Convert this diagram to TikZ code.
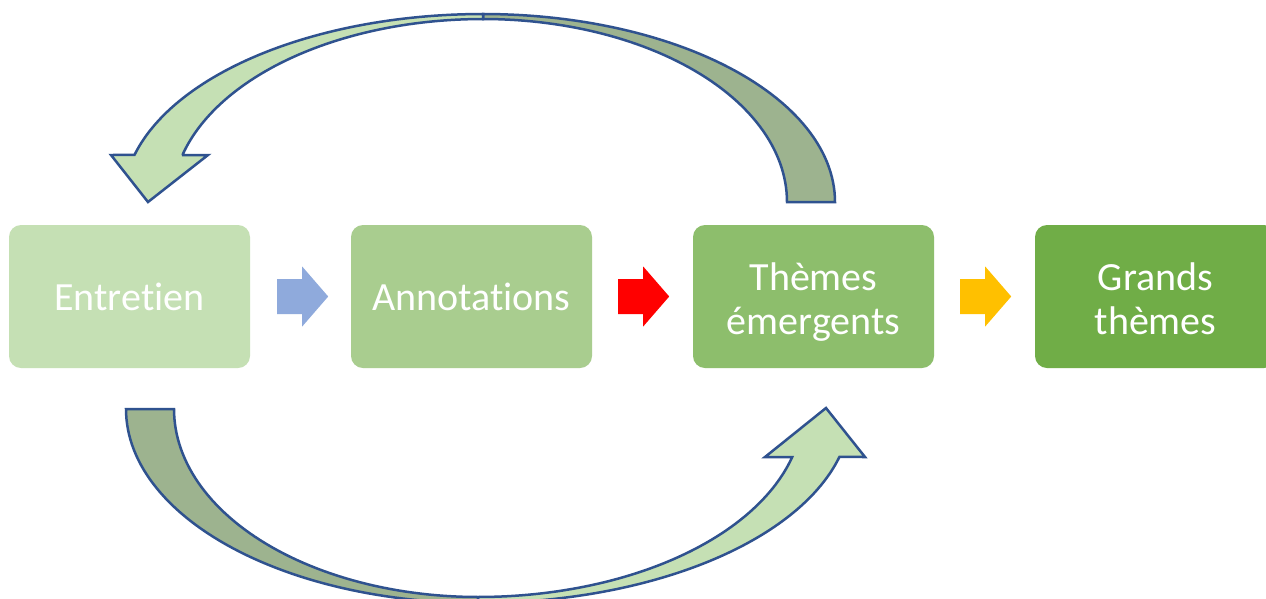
\documentclass[tikz,border=0pt]{standalone}
\usepackage{fontspec}
\setmainfont{Carlito}[Ligatures=NoCommon]
\usetikzlibrary{calc}
\definecolor{g1}{HTML}{C5E0B4}
\definecolor{g2}{HTML}{A9CD8F}
\definecolor{g3}{HTML}{8DBE6C}
\definecolor{g4}{HTML}{70AD47}
\definecolor{darkband}{HTML}{9DB38F}
\definecolor{edge}{HTML}{2F528F}
\definecolor{arrblue}{HTML}{8FAADC}
\definecolor{arrred}{HTML}{FF0000}
\definecolor{arrorange}{HTML}{FFC000}
\newcommand{\twolines}[2]{\raisebox{-7pt}[\height][\depth]{\begin{tabular}{@{}c@{}}#1\\#2\end{tabular}}}
\begin{document}
\begin{tikzpicture}[x=1pt,y=-1pt,
  stage/.style={rounded corners=12pt, minimum width=241pt, minimum height=143pt,
    inner sep=0pt, text=white, align=center, font=\fontsize{40}{44}\selectfont},
  band/.style={draw=edge, line width=2.5pt, line join=miter},
  flowarrow/.pic={\fill[#1] (0,-17.5) -- (25,-17.5) -- (25,-30) -- (51,0) -- (25,30) -- (25,17.5) -- (0,17.5) -- cycle;}]
\clip (0,0) rectangle (1266,598);
\fill[white] (0,0) rectangle (1266,598);
% stages
\node[stage, fill=g1] (e) at (129.5,296.5) {Entretien};
\node[stage, fill=g2] (a) at (471.5,296.5) {Annotations};
\node[stage, fill=g3] (t) at (813.5,296.5) {\twolines{Thèmes}{émergents}};
\node[stage, fill=g4] (g) at (1155.5,296.5) {\twolines{Grands}{thèmes}};
% block arrows between stages
\pic at ($(e.east)+(27,0)$) {flowarrow=arrblue};
\pic at ($(a.east)+(26,0)$) {flowarrow=arrred};
\pic at ($(t.east)+(26,0)$) {flowarrow=arrorange};
% top curved arrow (Thèmes -> Entretien)
\draw[band, fill=darkband]
  plot[domain=90:0, samples=60] ({483+352*cos(\x)},{202-188*sin(\x)})
  -- plot[domain=0:90, samples=60] ({483+304*cos(\x)},{202-183*sin(\x)}) -- cycle;
\draw[band, fill=g1]
  plot[domain=90:165.5, samples=60] ({483+360*cos(\x)},{202-188*sin(\x)})
  -- (111,155) -- (148,202) -- (208,155) -- (182,155)
  -- plot[domain=165.1:90, samples=60] ({483+311*cos(\x)},{202-183*sin(\x)}) -- cycle;
% bottom curved arrow (Entretien -> Thèmes)
\draw[band, fill=darkband]
  plot[domain=180:270, samples=60] ({478+352*cos(\x)},{409-194*sin(\x)})
  -- plot[domain=270:180, samples=60] ({478+304*cos(\x)},{409-188*sin(\x)}) -- cycle;
\draw[band, fill=g1]
  plot[domain=270:345.7, samples=60] ({478+373*cos(\x)},{409-194*sin(\x)})
  -- (865,457) -- (826,408) -- (765,457) -- (792,457)
  -- plot[domain=345.2:270, samples=60] ({478+325*cos(\x)},{409-188*sin(\x)}) -- cycle;
\end{tikzpicture}
\end{document}
